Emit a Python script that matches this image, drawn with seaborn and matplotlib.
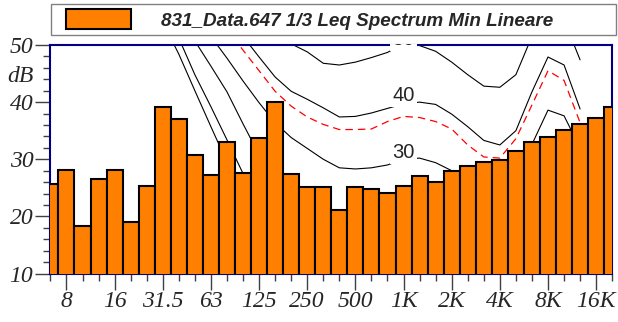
import matplotlib
matplotlib.use('Agg')
import matplotlib.pyplot as plt
import seaborn as sns
from matplotlib.patches import Patch, Rectangle

# 1/3 octave bands shown on the chart
bands = ["6.3", "8", "10", "12.5", "16", "20", "25", "31.5", "40", "50",
         "63", "80", "100", "125", "160", "200", "250", "315", "400", "500",
         "630", "800", "1K", "1.25K", "1.6K", "2K", "2.5K", "3.15K", "4K", "5K",
         "6.3K", "8K", "10K", "12.5K", "16K", "20K"]
levels = [25.6, 28.2, 18.3, 26.6, 28.2, 19.0, 25.3, 39.2, 37.0, 30.7,
          27.3, 33.0, 27.6, 33.7, 40.1, 27.4, 25.2, 25.2, 21.2, 25.2,
          24.8, 24.1, 25.3, 27.0, 26.0, 28.0, 28.8, 29.5, 29.9, 31.4,
          33.0, 33.9, 35.2, 36.2, 37.3, 39.1]
tick_labels = ["8", "16", "31.5", "63", "125", "250", "500", "1K", "2K", "4K", "8K", "16K"]

# contour curves, 20 Hz .. 12.5 kHz
contour_bands = bands[5:34]
curve_a = [66, 60, 54, 48.4, 42.0, 35.7, 29.5, 24.0, 19.5, 15.5, 12.5, 10.0, 8.0, 6.5, 5.0,
           4.0, 3.5, 3.5, 4.5, 3.5, 1.0, -1.5, -3.0, -2.5, 0.0, 5.5, 10.5, 12.5, 11.5]
curve_b = [72, 64, 57.5, 51.2, 44.8, 39.2, 33.4, 27.5, 23.0, 20.0, 18.0, 16.5, 15.0, 14.0, 13.5,
           13.0, 13.0, 13.5, 14.5, 13.5, 11.0, 8.5, 7.0, 7.5, 10.0, 15.5, 20.5, 22.5, 21.5]
curve_c = [78, 70, 63, 57, 50.7, 46.3, 41.8, 36.2, 30.8, 27.0, 24.0, 22.0, 20.5, 19.5, 19.0,
           19.0, 19.5, 20.0, 21.0, 20.5, 19.0, 17.0, 15.5, 15.5, 17.5, 22.0, 26.5, 28.0, 27.0]
curve_30 = [84, 76, 69, 62, 56, 51.5, 47.7, 43.7, 39.9, 36.4, 33.8, 31.9, 30.0, 28.5, 28.3,
            28.5, 29.0, 30.0, 30.2, 29.4, 28.0, 27.0, 26.5, 27.0, 29.5, 32.6, 38.6, 37.6, 32.0]
curve_40 = [95, 86, 78, 71, 65, 60, 55.5, 51.5, 47.9, 44.4, 41.9, 40.5, 39.0, 37.4, 37.5,
            38.1, 38.9, 39.7, 40.0, 39.6, 37.9, 35.7, 33.3, 32.5, 35.0, 41.8, 47.9, 46.5, 38.8]
curve_50 = [100, 92, 85, 78, 72, 67, 62, 58, 55, 52.5, 50.2, 48.8, 46.8, 46.5, 47.0,
            47.8, 48.7, 50.2, 49.9, 48.9, 47.0, 44.8, 42.8, 42.6, 44.8, 51.5, 55.5, 54.4, 47.4]
curve_red = [92, 82, 73, 66, 60, 55.5, 52.8, 49.1, 45.5, 41.9, 39.3, 37.4, 36.1, 35.2, 35.2,
             35.3, 36.6, 37.5, 37.3, 36.6, 35.3, 32.5, 30.4, 30.2, 33.6, 39.5, 45.5, 43.8, 36.4]
curve_labels = ["50", "40", "30"]
label_levels = [51.0, 41.1, 31.2]
label_band = "1K"

BAR = "#FF8000"
NAVY = "#000080"
W, H = 618, 322

sns.set_style("white")
plt.rcParams['font.family'] = ['Liberation Sans', 'DejaVu Sans']

fig = plt.figure(figsize=(W / 100, H / 100), dpi=100)
ax = fig.add_axes([50.4 / W, 1 - 273.5 / H, (612.2 - 50.4) / W, (273.5 - 45) / H])

sns.barplot(x=bands, y=levels, order=bands, color=BAR, saturation=1, width=1,
            edgecolor="black", linewidth=1.5, ax=ax)
for p in ax.patches:
    p.set_zorder(3)

cx = [bands.index(b) for b in contour_bands]
for vals in (curve_a, curve_b, curve_c, curve_30, curve_40, curve_50):
    ax.plot(cx, vals, color="black", lw=0.8, zorder=1.5)
ax.plot(cx, curve_red, color="red", lw=0.9, ls=(0, (6, 4)), zorder=1.5)

# labels sit on the curves; the top one is cut by the frame
clip = Rectangle((0, 0), 1, 1.006, transform=ax.transAxes)
for txt, lvl in zip(curve_labels, label_levels):
    t = ax.text(bands.index(label_band), lvl, txt, ha="center", va="center", fontsize=14.5,
                bbox=dict(facecolor="white", edgecolor="none", pad=1.5), zorder=2.8, clip_on=True)
    t.set_clip_path(clip)

ax.set_xlim(0, len(bands) - 1)
ax.set_ylim(10, 50)
ax.set_xlabel("")
ax.set_ylabel("")

major = [bands.index(t) for t in tick_labels]
minor = [i for i in range(len(bands)) if i not in major]
ax.set_xticks(major)
ax.set_xticklabels(tick_labels, fontsize=17, family="Liberation Serif", style="italic")
ax.set_xticks(minor, minor=True)
ax.set_yticks([10, 20, 30, 40, 50])
ax.set_yticklabels(["10", "20", "30", "40", "50"], fontsize=17, family="Liberation Serif", style="italic")
ax.set_yticks(range(12, 50, 2), minor=True)

ax.tick_params(axis="both", which="both", direction="out", color="#404040", width=1,
               left=True, bottom=True, top=False, right=False)
ax.tick_params(axis="x", which="major", length=11.5, pad=1)
ax.tick_params(axis="x", which="minor", length=5)
ax.tick_params(axis="y", which="major", length=10.8, pad=1.5)
ax.tick_params(axis="y", which="minor", length=5)

for s in ax.spines.values():
    s.set_color(NAVY)
    s.set_linewidth(1.5)

fig.text(20 / W, 1 - 76 / H, "dB", ha="center", va="center", fontsize=17,
         family="Liberation Serif", style="italic")

# legend box across the top
fig.patches.append(Rectangle((50.7 / W, 1 - 35 / H), (616 - 50.7) / W, 31 / H,
                             transform=fig.transFigure, facecolor="white",
                             edgecolor="#808080", lw=1, zorder=0))
handle = Patch(facecolor=BAR, edgecolor="black", linewidth=1.5,
               label="831_Data.647 1/3 Leq Spectrum Min Lineare")
fig.legend(handles=[handle], loc="center left", bbox_to_anchor=(66 / W, 1 - 19.5 / H),
           frameon=False, borderpad=0, borderaxespad=0, handlelength=3.43,
           handleheight=1.27, handletextpad=1.61,
           prop=dict(family="Liberation Sans", weight="bold", style="italic", size=13.6))

fig.savefig("out.png", dpi=100)
